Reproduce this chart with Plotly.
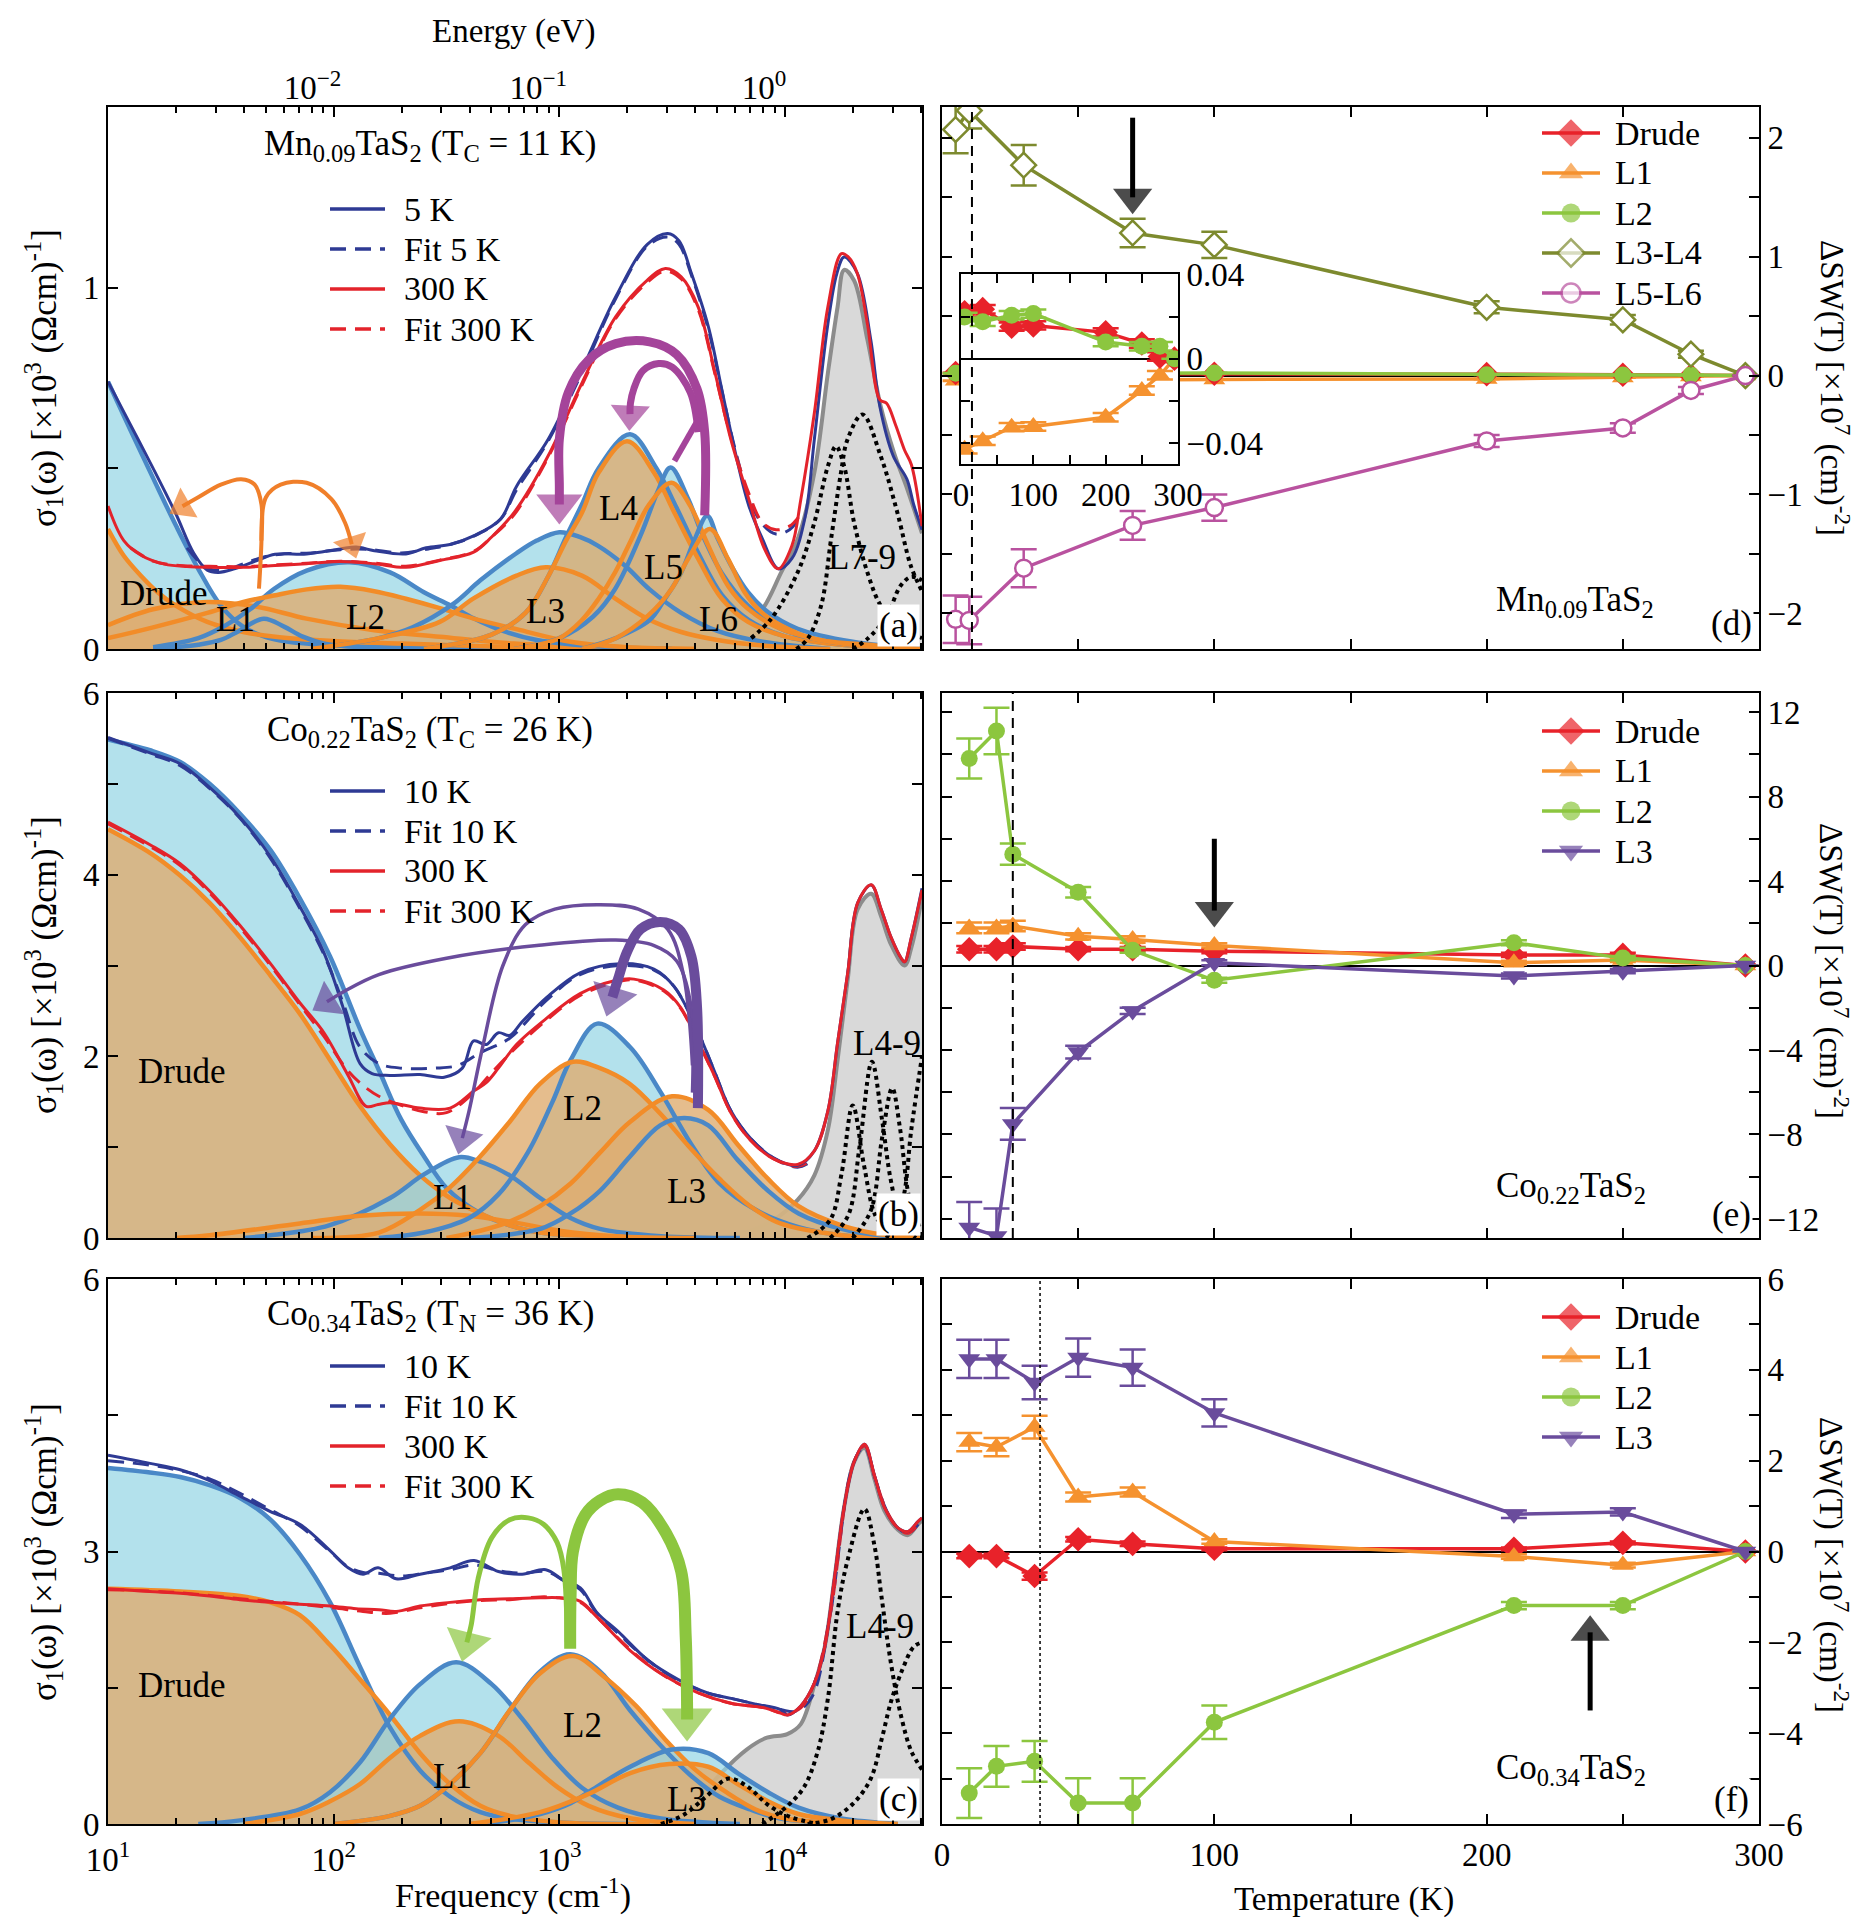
import plotly.graph_objects as go

W, H = 1860, 1924          # browser window (page pixels)
OFF = 8                    # default page body margin in the browser
FW, FH = W - OFF, H - OFF  # figure size so that it fits the window exactly
FONT = "Liberation Serif"
FS = 33

# =====================================================================
# DATA  -- left panels: (log10 frequency [cm^-1], sigma_1 [10^3 (Ohm cm)^-1])
# =====================================================================
# ---- (a) Mn0.09TaS2 ----
A_5K = [(1.00,0.74),(1.10,0.62),(1.20,0.50),(1.30,0.375),(1.38,0.265),(1.44,0.218),(1.49,0.212),(1.56,0.222),
        (1.66,0.245),(1.74,0.262),(1.88,0.263),(2.03,0.277),(2.10,0.282),(2.18,0.272),(2.32,0.263),(2.41,0.28),
        (2.52,0.29),(2.62,0.313),(2.74,0.36),(2.81,0.45),(2.95,0.58),(3.10,0.773),(3.25,0.975),(3.39,1.12),
        (3.48,1.15),(3.53,1.13),(3.585,1.04),(3.66,0.893),(3.72,0.718),(3.78,0.543),(3.84,0.396),(3.90,0.305),
        (3.97,0.222),(4.03,0.25),(4.09,0.368),(4.13,0.58),(4.19,0.90),(4.23,1.04),(4.262,1.085),(4.32,1.04),
        (4.38,0.856),(4.42,0.672),(4.48,0.534),(4.54,0.47),(4.57,0.40),(4.607,0.33)]
A_FIT5K = [(1.35,0.28),(1.44,0.224),(1.52,0.218),(1.60,0.236),(1.70,0.256),(1.80,0.264),(1.90,0.266),(2.03,0.275),
           (2.15,0.276),(2.30,0.266),(2.42,0.277),(2.52,0.29),(2.62,0.312),(2.74,0.36),(2.81,0.44),(2.95,0.575),
           (3.10,0.765),(3.25,0.97),(3.39,1.115),(3.48,1.14),(3.53,1.12),(3.585,1.035),(3.66,0.885),(3.72,0.715),
           (3.78,0.55),(3.84,0.42),(3.90,0.345),(3.96,0.318),(4.02,0.33),(4.06,0.36)]
A_300K = [(1.00,0.396),(1.07,0.30),(1.15,0.258),(1.25,0.235),(1.35,0.228),(1.45,0.226),(1.60,0.226),(1.74,0.231),
          (1.88,0.236),(2.03,0.242),(2.18,0.236),(2.32,0.226),(2.47,0.245),(2.62,0.268),(2.70,0.31),(2.80,0.378),
          (2.95,0.534),(3.10,0.736),(3.25,0.92),(3.39,1.021),(3.47,1.053),(3.54,1.03),(3.615,0.947),(3.69,0.764),
          (3.76,0.58),(3.84,0.414),(3.91,0.276),(3.97,0.222),(4.03,0.285),(4.07,0.414),(4.13,0.653),(4.19,0.947),
          (4.25,1.094),(4.28,1.085),(4.32,1.04),(4.365,0.90),(4.42,0.69),(4.45,0.68),(4.49,0.62),(4.53,0.55),
          (4.56,0.51),(4.607,0.34)]
A_FIT300K = [(1.10,0.28),(1.20,0.243),(1.30,0.232),(1.45,0.229),(1.60,0.228),(1.75,0.233),(1.90,0.238),(2.03,0.243),
             (2.18,0.238),(2.32,0.229),(2.47,0.246),(2.62,0.27),(2.70,0.31),(2.80,0.372),(2.95,0.53),(3.10,0.73),
             (3.25,0.915),(3.39,1.015),(3.47,1.046),(3.54,1.024),(3.615,0.94),(3.69,0.76),(3.76,0.585),(3.84,0.43),
             (3.90,0.35),(3.96,0.33),(4.02,0.34),(4.06,0.365)]
A5_DRUDE = [(1.0,0.74),(1.1,0.605),(1.2,0.473),(1.3,0.343),(1.4,0.222),(1.5,0.12),(1.6,0.061),(1.7,0.033),(1.8,0.02),(2.0,0.01),(2.3,0.004),(2.8,0.0)]
A3_DRUDE = [(1.0,0.332),(1.07,0.258),(1.15,0.2),(1.22,0.157),(1.3,0.12),(1.44,0.075),(1.6,0.047),(1.75,0.033),(2.0,0.022),(2.3,0.015),(2.8,0.005),(3.3,0.0)]
A5_L1 = [(1.2,0.0),(1.4,0.012),(1.5,0.025),(1.58,0.05),(1.69,0.084),(1.78,0.062),(1.86,0.035),(1.96,0.015),(2.15,0.004),(2.4,0.0)]
A3_L1 = [(1.0,0.066),(1.2,0.11),(1.44,0.13),(1.66,0.117),(1.88,0.084),(2.18,0.052),(2.47,0.034),(2.8,0.015),(3.2,0.005),(3.6,0.0)]
A5_L2 = [(1.2,0.005),(1.4,0.03),(1.52,0.065),(1.63,0.11),(1.735,0.166),(1.88,0.217),(2.07,0.24),(2.25,0.212),(2.4,0.157),
         (2.52,0.12),(2.62,0.085),(2.75,0.05),(2.9,0.025),(3.2,0.006),(3.5,0.0)]
A3_L2 = [(1.0,0.03),(1.2,0.06),(1.44,0.10),(1.6,0.13),(1.735,0.148),(1.88,0.165),(2.03,0.172),(2.18,0.16),(2.32,0.139),
         (2.47,0.113),(2.62,0.084),(2.81,0.055),(3.05,0.02),(3.3,0.005),(3.6,0.0)]
A5_L3 = [(1.9,0.0),(2.2,0.03),(2.35,0.06),(2.53,0.125),(2.65,0.19),(2.81,0.265),(2.9,0.30),(3.0,0.323),(3.09,0.31),
         (3.17,0.286),(3.29,0.231),(3.4,0.165),(3.54,0.10),(3.7,0.05),(3.9,0.02),(4.2,0.0)]
A3_L3 = [(1.9,0.0),(2.2,0.03),(2.47,0.075),(2.62,0.14),(2.81,0.203),(2.94,0.226),(3.1,0.203),(3.25,0.139),(3.39,0.084),
         (3.54,0.047),(3.7,0.025),(3.9,0.01),(4.2,0.0)]
A5_L4 = [(2.4,0.0),(2.7,0.04),(2.85,0.1),(2.95,0.2),(3.03,0.31),(3.1,0.40),(3.174,0.50),(3.313,0.594),(3.43,0.50),
         (3.52,0.39),(3.62,0.26),(3.72,0.15),(3.84,0.08),(4.0,0.035),(4.2,0.015),(4.5,0.0)]
A3_L4 = [(2.4,0.0),(2.7,0.04),(2.85,0.1),(2.95,0.2),(3.03,0.30),(3.1,0.377),(3.174,0.488),(3.3,0.575),(3.42,0.488),
         (3.51,0.377),(3.615,0.25),(3.72,0.139),(3.836,0.075),(4.0,0.035),(4.2,0.015),(4.5,0.0)]
A5_L5 = [(2.8,0.0),(3.0,0.03),(3.15,0.09),(3.247,0.166),(3.365,0.322),(3.434,0.433),(3.493,0.502),(3.571,0.415),
         (3.63,0.322),(3.718,0.212),(3.836,0.12),(3.98,0.056),(4.2,0.02),(4.5,0.0)]
A3_L5 = [(2.8,0.0),(3.0,0.03),(3.1,0.08),(3.174,0.139),(3.247,0.212),(3.32,0.304),(3.394,0.396),(3.497,0.46),(3.58,0.396),
         (3.66,0.286),(3.747,0.175),(3.836,0.111),(3.98,0.056),(4.2,0.02),(4.5,0.0)]
A5_L6 = [(3.1,0.0),(3.25,0.03),(3.4,0.08),(3.468,0.139),(3.54,0.212),(3.6,0.304),(3.655,0.369),(3.703,0.304),
         (3.762,0.23),(3.836,0.157),(3.924,0.102),(4.056,0.056),(4.3,0.02),(4.607,0.0)]
A3_L6 = [(3.1,0.0),(3.25,0.03),(3.394,0.093),(3.497,0.166),(3.571,0.25),(3.667,0.332),(3.747,0.25),(3.821,0.157),
         (3.895,0.102),(3.983,0.065),(4.13,0.028),(4.4,0.01),(4.607,0.0)]
A_L79 = [(3.6,0.0),(3.71,0.014),(3.8,0.045),(3.9,0.11),(3.983,0.212),(4.056,0.304),(4.13,0.488),(4.19,0.764),
         (4.233,0.947),(4.262,1.049),(4.306,1.02),(4.365,0.856),(4.424,0.672),(4.483,0.543),(4.542,0.442),(4.607,0.32)]
A_DOT1 = [(3.85,0.03),(3.939,0.084),(4.056,0.212),(4.13,0.35),(4.19,0.506),(4.226,0.561),(4.262,0.506),(4.306,0.35),
          (4.365,0.212),(4.424,0.12),(4.5,0.065),(4.607,0.03)]
A_DOT2 = [(4.05,0.0),(4.1,0.028),(4.16,0.12),(4.204,0.304),(4.248,0.488),(4.277,0.58),(4.343,0.649),(4.424,0.534),
          (4.498,0.377),(4.557,0.231),(4.607,0.16)]
A_DOT3 = [(4.3,0.0),(4.365,0.028),(4.45,0.09),(4.512,0.175),(4.56,0.2),(4.607,0.19)]

# ---- (b) Co0.22TaS2 ----
B_10K = [(1.0,5.51),(1.186,5.34),(1.32,5.22),(1.45,4.96),(1.585,4.63),(1.72,4.2),(1.85,3.65),(1.957,3.14),(2.04,2.55),
         (2.117,1.92),(2.17,1.81),(2.25,1.79),(2.383,1.80),(2.49,1.77),(2.57,1.87),(2.62,2.17),(2.676,2.13),(2.73,2.26),
         (2.78,2.23),(2.835,2.38),(2.944,2.65),(3.092,2.92),(3.27,3.02),(3.419,2.96),(3.508,2.77),(3.6,2.35),(3.685,1.85),
         (3.76,1.4),(3.846,1.1),(3.95,0.88),(4.056,0.80),(4.13,0.96),(4.19,1.4),(4.233,2.15),(4.278,2.92),(4.322,3.69),
         (4.382,3.886),(4.426,3.62),(4.47,3.31),(4.515,3.08),(4.53,3.04),(4.56,3.31),(4.607,3.85)]
B_FIT10K = [(1.0,5.5),(1.186,5.33),(1.32,5.2),(1.45,4.95),(1.585,4.62),(1.72,4.18),(1.85,3.63),(1.957,3.12),(2.04,2.6),
            (2.117,2.1),(2.2,1.92),(2.3,1.87),(2.45,1.87),(2.55,1.9),(2.65,2.04),(2.78,2.2),(2.944,2.62),(3.092,2.9),
            (3.27,3.0),(3.419,2.95),(3.508,2.77),(3.6,2.35),(3.685,1.85),(3.76,1.4),(3.846,1.1),(3.95,0.88),(4.056,0.78),(4.12,0.85)]
B_300K = [(1.0,4.58),(1.186,4.33),(1.32,4.12),(1.45,3.82),(1.585,3.44),(1.72,3.02),(1.85,2.59),(1.957,2.26),(2.064,1.79),
          (2.144,1.45),(2.197,1.47),(2.25,1.49),(2.383,1.43),(2.516,1.43),(2.622,1.62),(2.676,1.71),(2.73,1.87),(2.81,2.13),
          (2.944,2.42),(3.092,2.69),(3.24,2.83),(3.33,2.85),(3.463,2.73),(3.537,2.54),(3.61,2.19),(3.685,1.80),(3.76,1.38),
          (3.846,1.08),(3.95,0.87),(4.056,0.81),(4.13,0.96),(4.19,1.4),(4.233,2.15),(4.278,2.92),(4.322,3.69),(4.382,3.89),
          (4.426,3.62),(4.47,3.31),(4.515,3.08),(4.53,3.04),(4.56,3.31),(4.607,3.83)]
B_FIT300K = [(1.0,4.56),(1.186,4.31),(1.32,4.1),(1.45,3.8),(1.585,3.42),(1.72,3.0),(1.85,2.57),(1.957,2.22),(2.06,1.85),
             (2.12,1.7),(2.2,1.56),(2.3,1.46),(2.4,1.39),(2.5,1.38),(2.62,1.6),(2.7,1.82),(2.81,2.1),(2.944,2.4),(3.092,2.67),
             (3.24,2.81),(3.33,2.84),(3.463,2.72),(3.537,2.53),(3.61,2.18),(3.685,1.8),(3.76,1.38),(3.846,1.08),(3.95,0.87),
             (4.056,0.79),(4.12,0.86)]
B5_DRUDE = [(1.0,5.49),(1.186,5.37),(1.32,5.24),(1.45,5.0),(1.585,4.67),(1.72,4.27),(1.85,3.74),(1.984,3.1),(2.117,2.3),
            (2.2,1.85),(2.3,1.3),(2.4,0.9),(2.5,0.55),(2.65,0.27),(2.78,0.14),(2.915,0.06),(3.18,0.02),(3.6,0.0)]
B3_DRUDE = [(1.0,4.5),(1.186,4.24),(1.32,3.99),(1.45,3.69),(1.585,3.31),(1.72,2.89),(1.85,2.47),(1.984,1.96),(2.117,1.45),
            (2.25,1.03),(2.383,0.69),(2.516,0.44),(2.65,0.27),(2.78,0.14),(2.915,0.06),(3.18,0.02),(3.6,0.0)]
B5_L1 = [(1.6,0.0),(1.72,0.03),(1.98,0.14),(2.25,0.44),(2.4,0.7),(2.556,0.89),(2.65,0.84),(2.78,0.69),(2.915,0.44),
         (3.05,0.22),(3.18,0.1),(3.45,0.02),(3.8,0.0)]
B3_L1 = [(1.3,0.0),(1.45,0.03),(1.85,0.16),(2.117,0.245),(2.383,0.27),(2.6,0.245),(2.78,0.18),(3.0,0.08),(3.25,0.02),(3.6,0.0)]
B5_L2 = [(2.2,0.0),(2.4,0.06),(2.6,0.22),(2.73,0.48),(2.86,0.94),(2.968,1.49),(3.05,1.96),(3.168,2.36),(3.314,2.1),
         (3.45,1.6),(3.58,1.05),(3.71,0.6),(3.87,0.31),(4.06,0.12),(4.25,0.03),(4.5,0.0)]
B3_L2 = [(1.9,0.0),(2.2,0.06),(2.383,0.31),(2.516,0.56),(2.65,0.9),(2.78,1.28),(2.915,1.7),(3.06,1.94),(3.18,1.87),
         (3.31,1.7),(3.447,1.37),(3.58,0.99),(3.71,0.65),(3.846,0.35),(3.98,0.16),(4.25,0.03),(4.5,0.0)]
B5_L3 = [(2.6,0.0),(2.915,0.1),(3.05,0.27),(3.18,0.52),(3.314,0.9),(3.447,1.24),(3.553,1.32),(3.66,1.24),(3.79,0.86),
         (3.925,0.52),(4.06,0.27),(4.25,0.1),(4.45,0.02),(4.607,0.0)]
B3_L3 = [(2.5,0.0),(2.65,0.08),(2.78,0.18),(2.915,0.35),(3.05,0.6),(3.18,0.94),(3.314,1.28),(3.5,1.56),(3.66,1.41),
         (3.79,1.03),(3.925,0.65),(4.06,0.35),(4.25,0.14),(4.45,0.03),(4.607,0.0)]
B_L49 = [(3.7,0.0),(3.85,0.08),(3.95,0.2),(4.056,0.42),(4.13,0.69),(4.19,1.19),(4.233,1.96),(4.278,2.85),(4.322,3.62),
         (4.382,3.79),(4.426,3.54),(4.47,3.23),(4.53,3.0),(4.56,3.2),(4.607,3.75)]
B_DOT1 = [(4.1,0.0),(4.2,0.2),(4.25,0.7),(4.3,1.46),(4.35,0.8),(4.4,0.25),(4.46,0.05)]
B_DOT2 = [(4.2,0.0),(4.28,0.25),(4.33,1.0),(4.385,1.94),(4.43,1.3),(4.47,0.62),(4.52,0.15),(4.58,0.0)]
B_DOT3 = [(4.3,0.0),(4.38,0.3),(4.43,1.1),(4.475,1.65),(4.51,1.2),(4.55,0.45),(4.6,0.1)]
B_DOT4 = [(4.45,0.0),(4.52,0.4),(4.56,1.2),(4.607,2.0)]

# ---- (c) Co0.34TaS2 ----
C_10K = [(1.0,4.06),(1.186,3.97),(1.32,3.9),(1.45,3.78),(1.585,3.61),(1.72,3.44),(1.85,3.3),(1.984,3.01),(2.064,2.82),
         (2.13,2.75),(2.197,2.82),(2.277,2.7),(2.383,2.75),(2.516,2.82),(2.622,2.9),(2.73,2.78),(2.835,2.75),(2.94,2.8),
         (3.02,2.68),(3.093,2.6),(3.166,2.33),(3.26,2.12),(3.394,1.8),(3.527,1.59),(3.66,1.44),(3.766,1.38),(3.87,1.32),
         (3.98,1.26),(4.011,1.2),(4.07,1.3),(4.13,1.55),(4.176,1.95),(4.22,2.72),(4.262,3.49),(4.307,3.99),(4.352,4.18),
         (4.396,3.84),(4.44,3.49),(4.5,3.26),(4.545,3.22),(4.589,3.33),(4.607,3.37)]
C_FIT10K = [(1.0,4.0),(1.186,3.95),(1.32,3.89),(1.45,3.8),(1.585,3.64),(1.72,3.46),(1.85,3.28),(1.984,3.0),(2.064,2.83),
            (2.13,2.77),(2.2,2.76),(2.3,2.73),(2.4,2.76),(2.516,2.8),(2.622,2.85),(2.73,2.79),(2.835,2.76),(2.94,2.78),
            (3.02,2.68),(3.093,2.58),(3.166,2.32),(3.26,2.1),(3.394,1.8),(3.527,1.58),(3.66,1.44),(3.766,1.38),(3.87,1.32),
            (3.98,1.26),(4.05,1.24),(4.12,1.4),(4.2,2.3),(4.3,3.95),(4.352,4.15),(4.4,3.8),(4.45,3.45),(4.5,3.26),(4.545,3.2),(4.59,3.3)]
C_300K = [(1.0,2.59),(1.186,2.56),(1.32,2.54),(1.45,2.51),(1.585,2.47),(1.72,2.44),(1.85,2.42),(1.984,2.40),(2.1,2.37),
          (2.2,2.36),(2.277,2.34),(2.383,2.40),(2.516,2.44),(2.65,2.47),(2.78,2.48),(2.915,2.49),(3.0,2.49),(3.093,2.45),
          (3.166,2.28),(3.314,1.91),(3.46,1.64),(3.61,1.45),(3.76,1.33),(3.907,1.28),(3.98,1.22),(4.011,1.2),(4.07,1.3),
          (4.13,1.55),(4.176,1.95),(4.22,2.72),(4.262,3.49),(4.307,3.99),(4.352,4.18),(4.396,3.84),(4.44,3.49),(4.5,3.26),
          (4.545,3.22),(4.589,3.33),(4.607,3.37)]
C_FIT300K = [(1.0,2.58),(1.3,2.55),(1.585,2.48),(1.85,2.42),(2.0,2.38),(2.13,2.34),(2.25,2.32),(2.383,2.38),(2.516,2.43),
             (2.65,2.46),(2.78,2.47),(2.915,2.5),(3.0,2.49),(3.093,2.44),(3.166,2.28),(3.314,1.92),(3.46,1.64),(3.61,1.45),
             (3.76,1.33),(3.907,1.28),(4.0,1.22),(4.07,1.28),(4.13,1.55),(4.2,2.3),(4.3,3.95),(4.352,4.16),(4.4,3.8),
             (4.45,3.45),(4.5,3.26),(4.545,3.2),(4.59,3.3)]
C5_DRUDE = [(1.0,3.92),(1.186,3.87),(1.32,3.82),(1.45,3.73),(1.585,3.59),(1.72,3.35),(1.85,2.97),(1.984,2.44),(2.117,1.73),
            (2.25,1.06),(2.383,0.59),(2.516,0.3),(2.65,0.13),(2.78,0.06),(3.05,0.01),(3.4,0.0)]
C3_DRUDE = [(1.0,2.59),(1.32,2.56),(1.585,2.51),(1.72,2.44),(1.85,2.3),(1.984,1.97),(2.117,1.59),(2.25,1.2),(2.383,0.78),
            (2.516,0.44),(2.65,0.2),(2.78,0.09),(3.05,0.01),(3.4,0.0)]
C5_L1 = [(1.4,0.0),(1.585,0.04),(1.85,0.16),(1.984,0.35),(2.117,0.68),(2.25,1.16),(2.383,1.54),(2.543,1.78),(2.7,1.54),
         (2.835,1.16),(2.968,0.73),(3.1,0.4),(3.26,0.18),(3.45,0.06),(3.8,0.0)]
C3_L1 = [(1.6,0.0),(1.85,0.11),(1.984,0.25),(2.117,0.44),(2.25,0.73),(2.383,0.97),(2.556,1.13),(2.73,0.97),(2.862,0.68),
         (2.995,0.4),(3.13,0.2),(3.32,0.06),(3.6,0.0)]
C5_L2 = [(2.0,0.0),(2.25,0.09),(2.383,0.2),(2.516,0.44),(2.65,0.78),(2.78,1.25),(2.915,1.68),(3.048,1.87),(3.18,1.68),
         (3.314,1.25),(3.447,0.87),(3.58,0.54),(3.71,0.3),(3.846,0.16),(3.98,0.06),(4.3,0.0)]
C3_L2 = [(2.0,0.0),(2.25,0.09),(2.383,0.2),(2.516,0.44),(2.65,0.78),(2.78,1.25),(2.915,1.66),(3.06,1.85),(3.194,1.63),
         (3.34,1.3),(3.473,0.92),(3.606,0.59),(3.74,0.35),(3.87,0.16),(4.0,0.06),(4.3,0.0)]
C5_L3 = [(2.6,0.0),(2.78,0.04),(2.915,0.11),(3.05,0.23),(3.14,0.37),(3.314,0.63),(3.5,0.82),(3.66,0.78),(3.79,0.56),
         (3.925,0.35),(4.06,0.18),(4.25,0.06),(4.5,0.0)]
C3_L3 = [(2.6,0.0),(2.915,0.13),(3.12,0.32),(3.314,0.56),(3.487,0.66),(3.66,0.63),(3.79,0.44),(3.925,0.25),(4.06,0.11),
         (4.25,0.04),(4.5,0.0)]
C_L49 = [(3.45,0.0),(3.55,0.1),(3.62,0.28),(3.713,0.55),(3.83,0.82),(3.92,0.95),(4.01,0.99),(4.07,1.1),(4.13,1.53),
         (4.176,1.95),(4.22,2.72),(4.262,3.49),(4.307,3.99),(4.352,4.14),(4.396,3.8),(4.44,3.45),(4.5,3.24),(4.545,3.18),
         (4.589,3.3),(4.607,3.34)]
C_DOT0 = [(3.45,0.0),(3.55,0.1),(3.65,0.3),(3.75,0.5),(3.84,0.4),(3.92,0.22),(4.02,0.08),(4.15,0.0)]
C_DOT1 = [(3.9,0.0),(4.011,0.2),(4.085,0.41),(4.145,0.8),(4.19,1.38),(4.233,2.34),(4.278,2.91),(4.352,3.47),(4.396,3.07),
          (4.426,2.53),(4.47,1.76),(4.515,1.18),(4.56,0.8),(4.607,0.6)]
C_DOT2 = [(4.1,0.0),(4.2,0.05),(4.3,0.22),(4.38,0.5),(4.43,0.95),(4.47,1.35),(4.52,1.7),(4.57,1.95),(4.607,2.0)]

# =====================================================================
# DATA -- right panels: temperature [K], Delta SW [10^7 cm^-2], error
# =====================================================================
T_D = [5, 10, 30, 70, 100, 200, 250, 275, 295]
D_L34 = [2.07, 2.23, 1.77, 1.20, 1.10, 0.575, 0.47, 0.18, 0.0]
D_L34_ERR = [0.2, 0.15, 0.17, 0.12, 0.11, 0.05, 0.04, 0.03, 0.0]
D_L56 = [-2.05, -2.06, -1.62, -1.26, -1.11, -0.55, -0.44, -0.125, 0.0]
D_L56_ERR = [0.2, 0.2, 0.16, 0.12, 0.11, 0.05, 0.04, 0.03, 0.0]
T_D_IN = [5, 30, 70, 100, 200, 250, 275, 295]
D_DRUDE = [0.022, 0.0235, 0.0152, 0.0158, 0.0125, 0.0072, 0.001, 0.0]
D_L1 = [-0.043, -0.039, -0.0325, -0.0322, -0.0278, -0.0151, -0.0079, 0.0]
D_L2 = [0.0198, 0.0175, 0.0206, 0.0214, 0.0079, 0.0059, 0.0059, 0.0]
D_IN_ERR = [0.002, 0.002, 0.002, 0.002, 0.002, 0.002, 0.002, 0.0]

T_E = [10, 20, 26, 50, 70, 100, 210, 250, 295]
E_DRUDE = [0.77, 0.77, 0.9, 0.77, 0.77, 0.68, 0.5, 0.5, 0.0]
E_DRUDE_ERR = [0.15, 0.15, 0.15, 0.1, 0.1, 0.1, 0.1, 0.1, 0.0]
E_L1 = [1.78, 1.78, 1.87, 1.38, 1.23, 0.95, 0.13, 0.26, 0.0]
E_L1_ERR = [0.25, 0.25, 0.25, 0.15, 0.15, 0.1, 0.1, 0.1, 0.0]
E_L2 = [9.8, 11.1, 5.27, 3.47, 0.72, -0.70, 1.08, 0.35, 0.0]
E_L2_ERR = [0.95, 1.1, 0.5, 0.25, 0.12, 0.12, 0.12, 0.1, 0.0]
E_L3 = [-12.4, -12.8, -7.5, -4.1, -2.15, 0.13, -0.5, -0.27, 0.0]
E_L3_ERR = [1.2, 1.3, 0.75, 0.3, 0.15, 0.12, 0.12, 0.1, 0.0]

T_F = [10, 20, 34, 50, 70, 100, 210, 250, 295]
F_DRUDE = [-0.1, -0.1, -0.54, 0.27, 0.17, 0.06, 0.06, 0.19, 0.0]
F_DRUDE_ERR = [0.05, 0.05, 0.08, 0.05, 0.05, 0.03, 0.03, 0.03, 0.0]
F_L1 = [2.41, 2.30, 2.74, 1.20, 1.31, 0.22, -0.11, -0.30, 0.0]
F_L1_ERR = [0.2, 0.2, 0.25, 0.1, 0.1, 0.05, 0.05, 0.05, 0.0]
F_L2 = [-5.32, -4.73, -4.62, -5.54, -5.54, -3.76, -1.19, -1.19, 0.0]
F_L2_ERR = [0.55, 0.45, 0.45, 0.55, 0.55, 0.37, 0.08, 0.08, 0.0]
F_L3 = [4.24, 4.24, 3.72, 4.27, 4.05, 3.05, 0.82, 0.87, 0.0]
F_L3_ERR = [0.42, 0.42, 0.37, 0.42, 0.4, 0.3, 0.08, 0.08, 0.0]

# =====================================================================
# STYLE
# =====================================================================
C_LOW = "#2e3a94"
C_300 = "#e3232b"
C_CB = "#4a88c7"
C_CO = "#f28c28"
FILL_B = "rgba(150,214,228,0.72)"
FILL_O = "rgba(222,172,112,0.8)"
FILL_G = "#d9d9d9"
LINE_G = "#8c8c8c"
RED, ORANGE, GREEN = "#e8222a", "#f5922f", "#8cc63f"
OLIVE, MAGENTA, PURPLE = "#7d8a2e", "#b9529f", "#6a4c9c"
ARR_O, ARR_M, ARR_P, ARR_G = "#f07f2a", "#a4449a", "#6a4c9c", "#8cc63f"
MS = {"diamond": 19, "triangle-up": 19, "triangle-down": 19, "circle": 17}


def P(x, y):
    """page pixel -> paper fraction of the figure"""
    return (x - OFF) / FW, 1 - (y - OFF) / FH


fig = go.Figure()


def xy(pairs, log=True):
    return [10 ** p[0] if log else p[0] for p in pairs], [p[1] for p in pairs]


def add_fill(pairs, color, xa, ya, line_color=None, lw=0):
    x, y = xy(pairs)
    fig.add_trace(go.Scatter(x=x, y=y, mode="lines", fill="tozeroy", fillcolor=color,
                             line=dict(width=lw, color=line_color or color, shape="spline"),
                             xaxis=xa, yaxis=ya, showlegend=False, hoverinfo="skip"))


def add_line(pairs, color, width, xa, ya, dash=None):
    x, y = xy(pairs)
    ln = dict(color=color, width=width, shape="spline")
    if dash:
        ln["dash"] = dash
    fig.add_trace(go.Scatter(x=x, y=y, mode="lines", line=ln, xaxis=xa, yaxis=ya, hoverinfo="skip",
                             showlegend=False))


def add_arrow(pairs, color, width, head, xa, ya, log=True, smooth=True):
    x, y = xy(pairs, log)
    fig.add_trace(go.Scatter(x=x, y=y, mode="lines",
                             line=dict(color=color, width=width, shape="spline" if smooth else "linear"),
                             xaxis=xa, yaxis=ya, showlegend=False, hoverinfo="skip"))
    if head:
        fig.add_trace(go.Scatter(x=x[-2:], y=y[-2:], mode="markers",
                                 marker=dict(symbol="triangle-up", size=[0, head], color=color,
                                             angleref="previous", line=dict(width=0)),
                                 xaxis=xa, yaxis=ya, showlegend=False, hoverinfo="skip"))


DASH = "16px,9px"


def spectra_panel(xa, ya, gray, comps, dots, fit_low, low, fit300, d300):
    add_fill(gray, FILL_G, xa, ya, LINE_G, 4)
    for cb, co in comps:
        add_fill(cb, FILL_B, xa, ya)
        add_fill(co, FILL_O, xa, ya)
    for cb, co in comps:
        add_line(cb, C_CB, 4.5, xa, ya)
        add_line(co, C_CO, 4.5, xa, ya)
    for d in dots:
        add_line(d, "black", 4, xa, ya, dash="dot")
    add_line(fit_low, C_LOW, 3, xa, ya, dash=DASH)
    add_line(fit300, C_300, 3, xa, ya, dash=DASH)
    add_line(low, C_LOW, 3, xa, ya)
    add_line(d300, C_300, 3, xa, ya)


# ---------------- (a) ----------------
spectra_panel("x", "y", A_L79,
              [(A5_DRUDE, A3_DRUDE), (A5_L1, A3_L1), (A5_L2, A3_L2), (A5_L3, A3_L3), (A5_L4, A3_L4),
               (A5_L5, A3_L5), (A5_L6, A3_L6)],
              [A_DOT1, A_DOT2, A_DOT3], A_FIT5K, A_5K, A_FIT300K, A_300K)
add_arrow([(1.669, 0.167), (1.68, 0.30), (1.68, 0.40), (1.65, 0.455), (1.59, 0.47), (1.50, 0.455), (1.40, 0.42),
           (1.33, 0.395)], ARR_O, 4, 30, "x", "y")
add_arrow([(1.68, 0.30), (1.70, 0.42), (1.765, 0.455), (1.88, 0.46), (1.99, 0.415), (2.05, 0.35), (2.08, 0.29)],
          ARR_O, 4, 30, "x", "y")
add_arrow([(3.644, 0.37), (3.644, 0.60), (3.61, 0.72), (3.52, 0.815), (3.40, 0.85), (3.25, 0.845), (3.13, 0.80),
           (3.04, 0.71), (3.0, 0.58), (3.0, 0.45), (3.0, 0.40)], ARR_M, 9, 40, "x", "y")
add_arrow([(3.615, 0.60), (3.58, 0.71), (3.50, 0.78), (3.44, 0.79), (3.37, 0.77), (3.33, 0.72), (3.315, 0.68),
           (3.313, 0.65)], ARR_M, 7, 34, "x", "y")
add_arrow([(3.51, 0.52), (3.62, 0.64)], ARR_M, 6, 0, "x", "y", smooth=False)
fig.add_trace(go.Scatter(x=[0.1], y=[-1], xaxis="x7", yaxis="y", showlegend=False, hoverinfo="skip"))

# ---------------- (b) ----------------
spectra_panel("x3", "y3", B_L49,
              [(B5_DRUDE, B3_DRUDE), (B5_L1, B3_L1), (B5_L2, B3_L2), (B5_L3, B3_L3)],
              [B_DOT1, B_DOT2, B_DOT3, B_DOT4], B_FIT10K, B_10K, B_FIT300K, B_300K)
add_arrow([(3.59, 1.6), (3.58, 2.6), (3.52, 3.05), (3.42, 3.22), (3.25, 3.28), (2.9, 3.22), (2.5, 3.08), (2.2, 2.9),
           (2.05, 2.72), (1.97, 2.6)], ARR_P, 3.5, 34, "x3", "y3")
add_arrow([(3.59, 1.9), (3.55, 2.9), (3.48, 3.4), (3.35, 3.62), (3.18, 3.67), (2.98, 3.62), (2.85, 3.45), (2.75, 3.0),
           (2.66, 2.1), (2.6, 1.4), (2.57, 1.1)], ARR_P, 3.5, 34, "x3", "y3")
add_arrow([(3.614, 1.43), (3.61, 2.55), (3.585, 3.1), (3.53, 3.4), (3.447, 3.48), (3.36, 3.4), (3.30, 3.15),
           (3.26, 2.85), (3.235, 2.65)], ARR_P, 10, 40, "x3", "y3")

# ---------------- (c) ----------------
spectra_panel("x5", "y5", C_L49,
              [(C5_DRUDE, C3_DRUDE), (C5_L1, C3_L1), (C5_L2, C3_L2), (C5_L3, C3_L3)],
              [C_DOT0, C_DOT1, C_DOT2], C_FIT10K, C_10K, C_FIT300K, C_300K)
add_arrow([(3.035, 2.0), (3.02, 2.8), (2.99, 3.1), (2.93, 3.3), (2.862, 3.37), (2.78, 3.35), (2.7, 3.15), (2.64, 2.7),
           (2.61, 2.2), (2.59, 2.0)], ARR_G, 5, 40, "x5", "y5")
add_arrow([(3.048, 1.93), (3.05, 2.54), (3.06, 3.0), (3.114, 3.4), (3.18, 3.56), (3.26, 3.63), (3.367, 3.54),
           (3.473, 3.2), (3.54, 2.78), (3.56, 2.06), (3.566, 1.3), (3.566, 1.15)], ARR_G, 12, 44, "x5", "y5")


# ---------------- right panels ----------------
def series(T, V, E, color, symbol, xa, ya, hollow=False):
    fig.add_trace(go.Scatter(
        x=T, y=V, mode="lines+markers", showlegend=False,
        line=dict(color=color, width=3.5),
        marker=dict(symbol=symbol, size=MS[symbol], color="white" if hollow else color,
                    line=dict(color=color, width=2.5 if hollow else 0)),
        error_y=dict(type="data", array=E, visible=True, color=color, thickness=2.5, width=13),
        xaxis=xa, yaxis=ya, hoverinfo="skip"))


# (d)
series(T_D_IN, D_L1, D_IN_ERR, ORANGE, "triangle-up", "x2", "y2")
series(T_D_IN, D_DRUDE, D_IN_ERR, RED, "diamond", "x2", "y2")
series(T_D_IN, D_L2, D_IN_ERR, GREEN, "circle", "x2", "y2")
series(T_D, D_L34, D_L34_ERR, OLIVE, "diamond", "x2", "y2", hollow=True)
series(T_D, D_L56, D_L56_ERR, MAGENTA, "circle", "x2", "y2", hollow=True)
add_arrow([(70, 2.17), (70, 1.50)], "black", 5, 34, "x2", "y2", log=False, smooth=False)
# inset
series(T_D_IN, D_L1, D_IN_ERR, ORANGE, "triangle-up", "x8", "y8")
series(T_D_IN, D_DRUDE, D_IN_ERR, RED, "diamond", "x8", "y8")
series(T_D_IN, D_L2, D_IN_ERR, GREEN, "circle", "x8", "y8")

# (e)
series(T_E, E_DRUDE, E_DRUDE_ERR, RED, "diamond", "x4", "y4")
series(T_E, E_L1, E_L1_ERR, ORANGE, "triangle-up", "x4", "y4")
series(T_E, E_L2, E_L2_ERR, GREEN, "circle", "x4", "y4")
series(T_E, E_L3, E_L3_ERR, PURPLE, "triangle-down", "x4", "y4")
add_arrow([(100, 6.0), (100, 2.6)], "black", 5, 34, "x4", "y4", log=False, smooth=False)

# (f)
series(T_F, F_DRUDE, F_DRUDE_ERR, RED, "diamond", "x6", "y6")
series(T_F, F_L1, F_L1_ERR, ORANGE, "triangle-up", "x6", "y6")
series(T_F, F_L2, F_L2_ERR, GREEN, "circle", "x6", "y6")
series(T_F, F_L3, F_L3_ERR, PURPLE, "triangle-down", "x6", "y6")
add_arrow([(238, -3.5), (238, -1.78)], "black", 5, 34, "x6", "y6", log=False, smooth=False)

# =====================================================================
# LEGEND KEYS (drawn on a transparent full-page pixel overlay)
# =====================================================================
anns = []


def ann(text, x, y, xanchor="center", angle=0, bg=None, size=34):
    px_, py_ = P(x, y)
    d = dict(text=text, x=px_, y=py_, xref="paper", yref="paper", xanchor=xanchor, yanchor="middle",
             showarrow=False, textangle=angle, font=dict(family=FONT, size=size, color="black"))
    if bg:
        d["bgcolor"] = bg
        d["borderpad"] = 1
    anns.append(d)


def key_line(y, text, color, dash=None):
    ln = dict(color=color, width=3.5)
    if dash:
        ln["dash"] = dash
    fig.add_trace(go.Scatter(x=[330, 385], y=[y, y], mode="lines", line=ln, xaxis="x9", yaxis="y9",
                             showlegend=False, hoverinfo="skip"))
    ann(text, 402, y, "left")


def key_marker(y, text, color, symbol, hollow=False):
    fig.add_trace(go.Scatter(x=[1542, 1571, 1600], y=[y, y, y], mode="lines+markers",
                             line=dict(color=color, width=3.5),
                             marker=dict(symbol=symbol, size=[0, MS[symbol] + 2, 0],
                                         color="white" if hollow else color,
                                         line=dict(color=color, width=2.5 if hollow else 0)),
                             xaxis="x9", yaxis="y9", showlegend=False, hoverinfo="skip"))
    ann(text, 1613, y, "left")


for (y0, lab) in [(209, "5 K"), (791, "10 K"), (1366, "10 K")]:
    key_line(y0, lab, C_LOW)
    key_line(y0 + 40, "Fit " + lab, C_LOW, DASH)
    key_line(y0 + 80, "300 K", C_300)
    key_line(y0 + 120, "Fit 300 K", C_300, DASH)

key_marker(133, "Drude", RED, "diamond")
key_marker(173, "L1", ORANGE, "triangle-up")
key_marker(213, "L2", GREEN, "circle")
key_marker(253, "L3-L4", OLIVE, "diamond", hollow=True)
key_marker(293, "L5-L6", MAGENTA, "circle", hollow=True)
for y0 in (731, 1317):
    key_marker(y0, "Drude", RED, "diamond")
    key_marker(y0 + 40, "L1", ORANGE, "triangle-up")
    key_marker(y0 + 80, "L2", GREEN, "circle")
    key_marker(y0 + 120, "L3", PURPLE, "triangle-down")

# =====================================================================
# LAYOUT
# =====================================================================
TF = dict(family=FONT, size=FS, color="black")
common = dict(showline=True, linecolor="black", linewidth=2, mirror="ticks", ticks="inside", ticklen=10,
              tickwidth=2, tickcolor="black", showgrid=False, zeroline=False, tickfont=TF, automargin=False)
XL = [P(108, 0)[0], P(922, 0)[0]]
XR = [P(942, 0)[0], P(1759, 0)[0]]
YA = [P(0, 649)[1], P(0, 107)[1]]
YB = [P(0, 1238)[1], P(0, 693)[1]]
YC = [P(0, 1824)[1], P(0, 1279)[1]]
XIN = [P(961, 0)[0], P(1178, 0)[0]]
YIN = [P(0, 464)[1], P(0, 274)[1]]
MINOR_LOG = [k * 10 ** e for e in range(1, 5) for k in range(2, 10)]


def minor(vals, ln=10, w=2):
    return dict(ticks="inside", ticklen=ln, tickwidth=w, tickcolor="black", tickmode="array", tickvals=vals)


def left_x(anchor, labels):
    d = dict(common, type="log", range=[1, 4.607], domain=XL, anchor=anchor, tickmode="array",
             tickvals=[10, 100, 1000, 10000],
             ticktext=["10<sup>1</sup>", "10<sup>2</sup>", "10<sup>3</sup>", "10<sup>4</sup>"],
             showticklabels=labels, minor=minor(MINOR_LOG, 6, 1.5))
    if labels:
        d["ticklabelstandoff"] = 5
    return d


def left_y(anchor, dom, rng, vals, mvals):
    return dict(common, domain=dom, anchor=anchor, range=rng, tickmode="array", tickvals=vals,
                ticktext=[("%g" % v) for v in vals], minor=minor(mvals))


def right_x(anchor, dom, labels):
    return dict(common, domain=dom, anchor=anchor, range=[0, 300], tickmode="array",
                tickvals=[0, 100, 200, 300], ticktext=["0", "100", "200", "300"],
                showticklabels=labels, minor=minor([50, 150, 250]))


M = "\u2212"


def lab(v):
    s = "%g" % abs(v)
    return (M + s) if v < 0 else s


def right_y(anchor, dom, rng, vals, mvals):
    return dict(common, domain=dom, anchor=anchor, side="right", range=rng, tickmode="array", tickvals=vals,
                ticktext=[lab(v) for v in vals], minor=minor(mvals),
                zeroline=True, zerolinecolor="black", zerolinewidth=2)


layout = dict(
    template="none",
    width=FW, height=FH, margin=dict(l=0, r=0, t=0, b=0, pad=0, autoexpand=False),
    paper_bgcolor="white", plot_bgcolor="rgba(0,0,0,0)", font=TF, showlegend=False,
    xaxis=left_x("y", False),
    yaxis=left_y("x", YA, [0, 1.5], [0, 1], [0.5]),
    xaxis3=left_x("y3", False),
    yaxis3=left_y("x3", YB, [0, 6], [0, 2, 4, 6], [1, 3, 5]),
    xaxis5=left_x("y5", True),
    yaxis5=left_y("x5", YC, [0, 6], [0, 3, 6], [1.5, 4.5]),
    xaxis7=dict(type="log", overlaying="x", anchor="y", side="top", range=[-2.9066, 0.7004], showline=False,
                showgrid=False, zeroline=False, ticks="", tickmode="array", tickvals=[0.01, 0.1, 1],
                ticktext=["10<sup>" + M + "2</sup>", "10<sup>" + M + "1</sup>", "10<sup>0</sup>"], tickfont=TF,
                automargin=False),
    xaxis2=right_x("y2", XR, False),
    yaxis2=right_y("x2", YA, [-2.3, 2.26], [-2, -1, 0, 1, 2], [-1.5, -0.5, 0.5, 1.5]),
    xaxis4=right_x("y4", XR, False),
    yaxis4=right_y("x4", YB, [-12.9, 12.9], [-12, -8, -4, 0, 4, 8, 12], [-10, -6, -2, 2, 6, 10]),
    xaxis6=right_x("y6", XR, True),
    yaxis6=right_y("x6", YC, [-6, 6], [-6, -4, -2, 0, 2, 4, 6], [-5, -3, -1, 1, 3, 5]),
    xaxis8=dict(common, domain=XIN, anchor="y8", range=[0, 300], tickmode="array",
                tickvals=[0, 100, 200, 300], ticktext=["0", "100", "200", "300"], ticklen=9,
                minor=minor([50, 150, 250], 9)),
    yaxis8=dict(common, domain=YIN, anchor="x8", side="right", range=[-0.05, 0.0402],
                tickmode="array", tickvals=[-0.04, 0, 0.04], ticktext=[M + "0.04", "0", "0.04"], ticklen=9,
                minor=minor([-0.02, 0.02], 9), zeroline=True, zerolinecolor="black", zerolinewidth=2),
    xaxis9=dict(domain=[0, 1], anchor="y9", range=[OFF, W], visible=False, fixedrange=True, automargin=False),
    yaxis9=dict(domain=[0, 1], anchor="x9", range=[H, OFF], visible=False, fixedrange=True, automargin=False),
)
fig.update_layout(**layout)

shapes = [
    dict(type="rect", xref="x8", yref="y8", x0=0, x1=300, y0=-0.05, y1=0.0402, fillcolor="white",
         line=dict(width=0), layer="below"),
    dict(type="line", xref="x2", yref="y2 domain", x0=11, x1=11, y0=0, y1=1,
         line=dict(color="black", width=2, dash="10px,7px"), layer="above"),
    dict(type="line", xref="x4", yref="y4 domain", x0=26, x1=26, y0=0, y1=1,
         line=dict(color="black", width=2, dash="10px,7px"), layer="above"),
    dict(type="line", xref="x6", yref="y6 domain", x0=36, x1=36, y0=0, y1=1,
         line=dict(color="black", width=1.5, dash="3px,3px"), layer="above"),
]
fig.update_layout(shapes=shapes)

ann("Mn<sub>0.09</sub>TaS<sub>2</sub> (T<sub>C</sub> = 11 K)", 262, 146, "left", size=35)
ann("Co<sub>0.22</sub>TaS<sub>2</sub> (T<sub>C</sub> = 26 K)", 265, 731, "left", size=35)
ann("Co<sub>0.34</sub>TaS<sub>2</sub> (T<sub>N</sub> = 36 K)", 265, 1315, "left", size=35)
for t, x, y in [("Drude", 163, 593), ("L1", 235, 619), ("L2", 365, 617), ("L3", 545, 612), ("L4", 618, 508),
                ("L5", 663, 567), ("L6", 718, 619), ("L7-9", 862, 558),
                ("Drude", 181, 1071), ("L1", 452, 1197), ("L2", 582, 1108), ("L3", 686, 1191), ("L4-9", 887, 1043),
                ("Drude", 181, 1685), ("L1", 452, 1776), ("L2", 582, 1725), ("L3", 686, 1799), ("L4-9", 880, 1626)]:
    ann(t, x, y, size=35)
for t, x, y in [("(a)", 898, 625), ("(b)", 898, 1214), ("(c)", 898, 1799),
                ("(d)", 1731, 623), ("(e)", 1731, 1214), ("(f)", 1731, 1799)]:
    ann(t, x, y, bg="white", size=35)
ann("Mn<sub>0.09</sub>TaS<sub>2</sub>", 1494, 602, "left", size=35)
ann("Co<sub>0.22</sub>TaS<sub>2</sub>", 1494, 1187, "left", size=35)
ann("Co<sub>0.34</sub>TaS<sub>2</sub>", 1494, 1769, "left", size=35)
ann("Energy (eV)", 513, 31, size=33)
ann("Frequency (cm<sup>-1</sup>)", 513, 1893, size=34)
ann("Temperature (K)", 1344, 1899, size=33)
YT = "\u03c3<sub>1</sub>(\u03c9) [\u00d710<sup>3</sup> (\u03a9cm)<sup>-1</sup>]"
RT = "\u0394SW(T) [\u00d710<sup>7</sup> (cm)<sup>-2</sup>]"
for yc in (378, 965, 1552):
    ann(YT, 43, yc, angle=-90, size=35)
for yc in (388, 971, 1565):
    ann(RT, 1834, yc, angle=90, size=33)
fig.update_layout(annotations=anns)

fig.write_html("out.html")
